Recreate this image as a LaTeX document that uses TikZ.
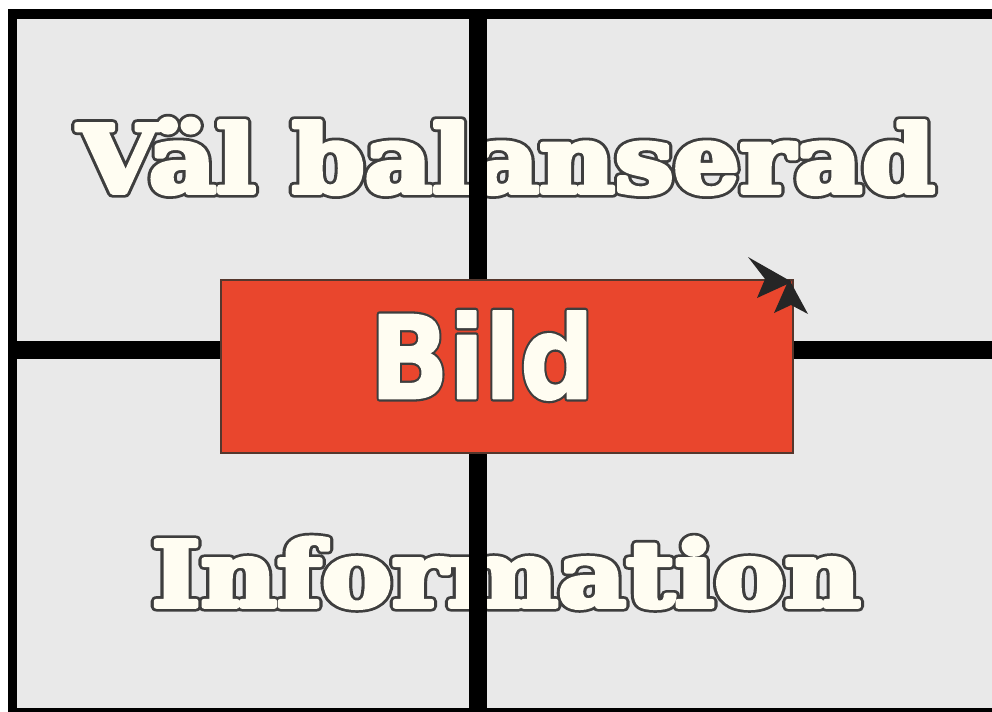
\documentclass[tikz,border=0pt]{standalone}
\usepackage{fontspec}
\usepackage{graphicx}
\newfontfamily\serifheavy{DejaVu Serif}[BoldFont=* Bold]
\newfontfamily\sansheavy{DejaVu Sans}[BoldFont=* Bold]
\definecolor{panelgray}{RGB}{233,233,233}
\definecolor{boxred}{RGB}{233,70,45}
\definecolor{boxedge}{RGB}{85,55,45}
\definecolor{cream}{RGB}{255,253,242}
\definecolor{outl}{RGB}{62,62,62}
% #1 outer stroke width, #2 inner (fill) stroke width, #3 text
\newcommand{\heavyoutline}[3]{%
  \rlap{\color{outl}\special{pdf:code q 2 Tr #1 w 1 j 0.243 0.243 0.243 RG}#3\special{pdf:code Q}}%
  {\color{cream}\special{pdf:code q 2 Tr #2 w 1 j 1 0.992 0.949 RG}#3\special{pdf:code Q}}}
\begin{document}
\begin{tikzpicture}[x=0.025cm,y=-0.025cm,
  gridline/.style={black,line width=13pt},
  bigtext/.style={inner sep=0pt,outer sep=0pt,anchor=base west},
  arrowhead/.style={fill=black!85,draw=none}]
\useasboundingbox (0,0) rectangle (992,711);
\fill[white] (0,0) rectangle (992,711);
\fill[panelgray] (13,14) rectangle (992,711);
% texts (under grid lines)
\node[bigtext] (title) at (77.5,192.5)
  {\resizebox{21.42cm}{1.84cm}{\heavyoutline{1.1}{0.5}{\serifheavy\bfseries Väl balanserad}}};
\node[bigtext] (info) at (151.5,606.5)
  {\resizebox{17.72cm}{1.72cm}{\heavyoutline{1.1}{0.5}{\serifheavy\bfseries Information}}};
% grid
\coordinate (tl) at (8,14);
\coordinate (tr) at (992,14);
\coordinate (lt) at (12.5,9);
\coordinate (lb) at (12.5,711);
\coordinate (bl) at (8,711);
\coordinate (br) at (992,711);
\coordinate (vt) at (478,14);
\coordinate (vb) at (478,711);
\coordinate (hl) at (12.5,350);
\coordinate (hr) at (992,350);
\draw[gridline,line width=7pt] (tl) -- (tr);
\draw[gridline,line width=6.6pt] (lt) -- (lb);
\draw[gridline,line width=4pt] (bl) -- (br);
\draw[gridline] (vt) -- (vb);
\draw[gridline] (hl) -- (hr);
% red box
\node[draw=boxedge,line width=1.4pt,fill=boxred,minimum width=14.3cm,minimum height=4.325cm,inner sep=0pt,anchor=north west] (box) at (220,279) {};
\node[bigtext] (bild) at (370,398.5)
  {\resizebox{5.6cm}{2.19cm}{\heavyoutline{0.55}{0.15}{\sansheavy\bfseries Bild}}};
% corner arrowheads
\fill[arrowhead] (748,257) -- (792,282) -- (757,298) -- (765,279) -- cycle;
\fill[arrowhead] (789,279) -- (808,314) -- (791,305) -- (774,313) -- cycle;
\end{tikzpicture}
\end{document}
